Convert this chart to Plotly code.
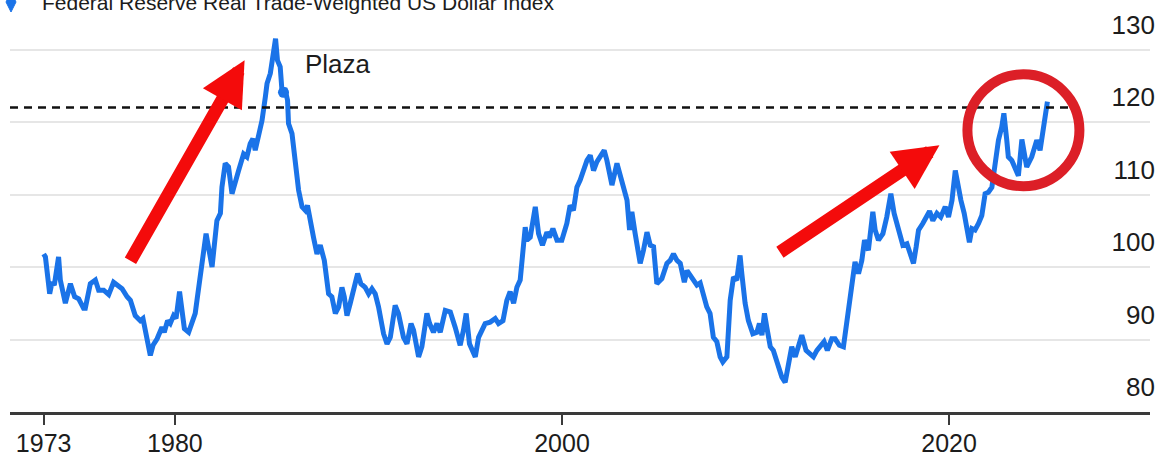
import plotly.graph_objects as go

# ---- data (decimal year, index value) ----
years = [
    1973.22, 1973.31, 1973.53, 1973.65, 1973.77, 1973.99, 1974.08, 1974.34, 1974.60, 1974.82,
    1975.03, 1975.28, 1975.37, 1975.63, 1975.89, 1976.06, 1976.32, 1976.58, 1976.83, 1977.04,
    1977.27, 1977.53, 1977.70, 1977.95, 1978.21, 1978.35, 1978.47, 1978.59, 1978.73, 1978.87,
    1979.08, 1979.33, 1979.45, 1979.62, 1979.76, 1979.93, 1980.06, 1980.24, 1980.37, 1980.49,
    1980.71, 1980.88, 1981.05, 1981.14, 1981.40, 1981.61, 1981.92, 1982.09, 1982.17, 1982.35,
    1982.43, 1982.60, 1982.77, 1982.95, 1983.12, 1983.29, 1983.55, 1983.72, 1983.89, 1984.03,
    1984.15, 1984.32, 1984.50, 1984.67, 1984.76, 1984.93, 1985.10, 1985.20, 1985.30, 1985.44,
    1985.53, 1985.70, 1985.82, 1985.87, 1986.05, 1986.22, 1986.39, 1986.57, 1986.74, 1986.85,
    1986.99, 1987.16, 1987.34, 1987.51, 1987.72, 1987.94, 1988.11, 1988.29, 1988.46, 1988.63,
    1988.75, 1988.89, 1989.06, 1989.23, 1989.44, 1989.61, 1989.83, 1990.01, 1990.18, 1990.35,
    1990.52, 1990.78, 1990.96, 1991.13, 1991.38, 1991.55, 1991.81, 1991.99, 1992.20, 1992.33,
    1992.59, 1992.76, 1993.02, 1993.16, 1993.36, 1993.54, 1993.71, 1993.97, 1994.23, 1994.48,
    1994.74, 1994.91, 1995.05, 1995.22, 1995.52, 1995.69, 1996.03, 1996.29, 1996.55, 1996.72,
    1996.95, 1997.15, 1997.32, 1997.50, 1997.67, 1997.84, 1998.01, 1998.10, 1998.19, 1998.36,
    1998.62, 1998.79, 1998.99, 1999.22, 1999.35, 1999.53, 1999.74, 1999.99, 2000.25, 2000.42,
    2000.59, 2000.77, 2000.94, 2001.11, 2001.29, 2001.46, 2001.63, 2001.80, 2001.97, 2002.18,
    2002.32, 2002.58, 2002.84, 2003.01, 2003.18, 2003.36, 2003.49, 2003.61, 2003.78, 2004.04,
    2004.21, 2004.39, 2004.56, 2004.73, 2004.90, 2005.16, 2005.42, 2005.59, 2005.76, 2005.94,
    2006.11, 2006.32, 2006.46, 2006.71, 2006.97, 2007.14, 2007.31, 2007.48, 2007.65, 2007.82,
    2008.00, 2008.17, 2008.31, 2008.52, 2008.69, 2008.86, 2009.03, 2009.20, 2009.29, 2009.46,
    2009.63, 2009.86, 2010.07, 2010.20, 2010.33, 2010.46, 2010.58, 2010.76, 2010.92, 2011.10,
    2011.36, 2011.53, 2011.70, 2011.87, 2012.05, 2012.22, 2012.39, 2012.61, 2012.82, 2012.99,
    2013.17, 2013.34, 2013.54, 2013.71, 2013.94, 2014.11, 2014.33, 2014.54, 2014.80, 2015.03,
    2015.14, 2015.32, 2015.49, 2015.63, 2015.83, 2016.06, 2016.18, 2016.35, 2016.58, 2016.78,
    2016.99, 2017.16, 2017.38, 2017.61, 2017.82, 2017.99, 2018.16, 2018.30, 2018.42, 2018.64,
    2018.85, 2018.99, 2019.16, 2019.37, 2019.57, 2019.80, 2019.97, 2020.15, 2020.32, 2020.43,
    2020.61, 2020.78, 2020.92, 2021.05, 2021.18, 2021.34, 2021.52, 2021.69, 2021.86, 2022.03,
    2022.21, 2022.38, 2022.55, 2022.72, 2022.83, 2022.98, 2023.06, 2023.24, 2023.41, 2023.58,
    2023.76, 2023.88, 2024.01, 2024.27, 2024.53, 2024.70, 2024.95, 2025.08,
]

index_values = [
    101.8, 101.4, 96.3, 97.9, 97.5, 101.4, 98.2, 95.0, 97.7, 95.9,
    95.6, 94.3, 94.3, 97.7, 98.2, 96.8, 96.8, 96.2, 97.9, 97.5,
    97.0, 95.9, 95.4, 93.3, 92.6, 92.9, 91.3, 89.2, 87.8, 89.2,
    90.1, 91.7, 91.0, 92.6, 92.2, 93.3, 92.9, 96.6, 94.0, 91.5,
    91.0, 92.6, 93.6, 95.4, 100.9, 104.6, 100.0, 104.1, 106.4, 107.4,
    111.0, 114.3, 113.8, 110.1, 112.0, 113.3, 115.6, 115.2, 117.0, 117.7,
    116.1, 117.9, 120.2, 123.4, 125.3, 126.7, 130.3, 131.5, 128.5, 127.6,
    124.4, 124.4, 123.0, 119.8, 118.4, 114.3, 110.6, 108.3, 107.8, 108.5,
    106.0, 104.1, 101.8, 103.0, 100.9, 96.3, 95.9, 93.6, 94.5, 97.2,
    95.9, 93.3, 95.0, 97.2, 99.1, 97.7, 97.2, 96.3, 97.0, 96.3,
    94.5, 90.8, 89.4, 90.3, 94.7, 93.6, 90.3, 89.4, 92.2, 91.3,
    87.6, 89.0, 93.6, 92.2, 91.0, 92.2, 91.0, 94.0, 93.8, 91.7,
    89.2, 91.3, 93.6, 89.4, 87.6, 90.3, 92.2, 92.4, 92.9, 92.2,
    92.6, 95.4, 96.6, 95.0, 97.2, 98.2, 104.1, 105.5, 103.7, 104.1,
    108.3, 104.6, 103.0, 104.8, 104.1, 105.3, 103.7, 103.7, 106.0, 108.5,
    107.8, 111.0, 112.0, 113.6, 114.7, 115.4, 113.3, 114.5, 115.2, 116.1,
    114.7, 111.3, 114.3, 112.4, 111.0, 109.2, 105.1, 107.6, 104.6, 100.5,
    102.3, 104.8, 103.0, 102.8, 97.7, 98.4, 100.5, 100.9, 101.8, 100.9,
    100.5, 97.9, 99.5, 98.6, 97.5, 97.8, 96.3, 94.5, 93.6, 90.3,
    89.7, 87.6, 86.9, 87.6, 95.4, 98.6, 98.2, 101.6, 99.1, 95.0,
    92.6, 90.8, 91.0, 92.2, 90.6, 93.6, 91.7, 89.0, 88.5, 87.1,
    84.8, 84.1, 87.1, 89.0, 87.6, 89.0, 90.6, 88.5, 88.1, 87.6,
    88.5, 89.0, 89.7, 88.5, 90.1, 90.1, 89.2, 89.0, 93.6, 98.6,
    100.7, 99.1, 100.9, 103.7, 102.3, 107.6, 105.1, 103.7, 104.6, 106.9,
    110.1, 107.4, 105.1, 103.0, 103.2, 101.8, 100.5, 102.8, 105.1, 106.0,
    106.9, 107.7, 106.4, 107.4, 106.9, 108.3, 106.9, 109.2, 113.3, 111.5,
    109.2, 107.4, 105.1, 103.4, 105.3, 105.1, 106.0, 107.1, 110.1, 110.3,
    111.0, 114.7, 117.5, 119.3, 121.2, 117.5, 115.2, 114.7, 113.8, 112.6,
    117.6, 115.5, 113.8, 115.2, 117.5, 116.1, 120.9, 122.8,
]

plaza_year = 1985.61
plaza_value = 124.1
plaza_level = 122.0

y_tick_values = [80, 90, 100, 110, 120, 130]
x_tick_labels = ["1973", "1980", "2000", "2020"]
x_tick_years = [years[0], 1980, 2000, 2020]

series_name = "Federal Reserve Real Trade-Weighted US Dollar Index"
plaza_label = "Plaza"

# ---- styling ----
BLUE = "#1a73e8"
RED = "#f40b0b"
RING = "#dc1f27"
FONT = "Liberation Sans, Arial, Helvetica, sans-serif"

PLOT_H = 412  # plot area from the top of the page to the x-axis line
X_RANGE = [1971.48, 2030.38]
Y_RANGE = [80, 80 + PLOT_H / 7.25]


def paper_y(py):
    return (PLOT_H - py) / PLOT_H


def paper_x(px):
    return (px - 10) / 1140


fig = go.Figure()
fig.add_trace(go.Scatter(
    x=years, y=index_values, mode="lines",
    line=dict(color=BLUE, width=5), name=series_name, showlegend=False,
))
fig.add_trace(go.Scatter(
    x=[plaza_year], y=[plaza_value], mode="markers",
    marker=dict(color=BLUE, size=11), showlegend=False,
))

fig.update_layout(
    width=1155, height=459,
    margin=dict(l=10, r=5, t=0, b=459 - PLOT_H, autoexpand=False),
    paper_bgcolor="white", plot_bgcolor="white",
    font=dict(family=FONT, color="#1c1c1c"),
)

fig.update_xaxes(
    range=X_RANGE, tickvals=x_tick_years, ticktext=x_tick_labels,
    automargin=False,
    showgrid=False, zeroline=False,
    showline=True, linecolor="#3a3a3a", linewidth=2.5,
    ticks="outside", ticklen=10, tickwidth=1.6, tickcolor="#3a3a3a",
    ticklabelstandoff=-3,
    tickfont=dict(size=25, color="#1c1c1c"),
)
fig.update_yaxes(
    range=Y_RANGE, side="right", tickvals=y_tick_values,
    automargin=False,
    ticklabelposition="inside", ticklabelshift=-25, ticklabelstandoff=-8,
    showgrid=True, gridcolor="#e6e6e6", gridwidth=1.5,
    zeroline=False, showline=False,
    tickfont=dict(size=26, color="#1c1c1c"),
)

# Plaza reference level (dashed)
fig.add_shape(
    type="line", xref="x", yref="y",
    x0=X_RANGE[0], x1=2026.15, y0=plaza_level, y1=plaza_level,
    line=dict(color="#111111", width=2.5, dash="8px,6px"),
)

# Red ring around the latest data
fig.add_shape(
    type="circle", xref="x", yref="y",
    xsizemode="pixel", ysizemode="pixel",
    xanchor=2023.84, yanchor=118.86,
    x0=-56, x1=56, y0=-56, y1=56,
    line=dict(color=RING, width=10),
)

# Legend-like icon at the top left
fig.add_shape(
    type="path", xref="paper", yref="paper",
    xsizemode="pixel", ysizemode="pixel",
    xanchor=paper_x(11), yanchor=paper_y(2),
    path="M 0 -10 L 5 0 L 0 10 L -5 0 Z",
    fillcolor=BLUE, line=dict(color=BLUE, width=1),
)

# Series title (cut at the top like the reference)
fig.add_annotation(
    xref="paper", yref="paper", x=paper_x(40), y=paper_y(2),
    xanchor="left", yanchor="middle", showarrow=False,
    text=series_name, font=dict(size=21, color="#1c1c1c"),
)

# Plaza label
fig.add_annotation(
    xref="x", yref="y", x=1986.62, y=128.03,
    xanchor="left", yanchor="middle", showarrow=False,
    text=plaza_label, font=dict(size=26, color="#1c1c1c"),
)

# Red arrows
for tip_x, tip_y, ax, ay in [(1983.60, 128.51, -115, 202), (2019.50, 116.79, -161, 108)]:
    fig.add_annotation(
        xref="x", yref="y", x=tip_x, y=tip_y, ax=ax, ay=ay,
        text="", showarrow=True, arrowhead=2, arrowwidth=13,
        arrowsize=0.69, arrowcolor=RED, standoff=0,
    )

fig.write_html("out.html")
